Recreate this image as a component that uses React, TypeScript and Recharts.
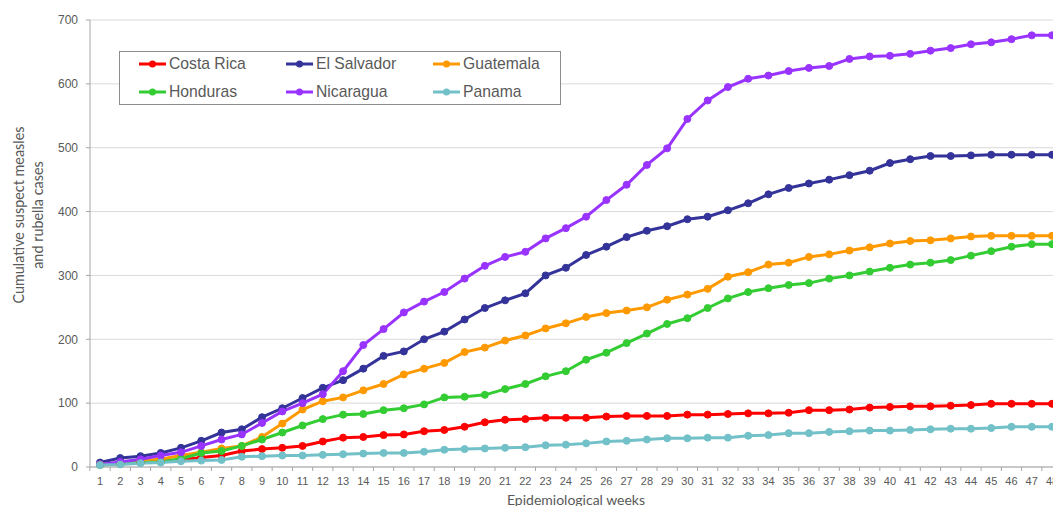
import { LineChart, Line, XAxis, YAxis, CartesianGrid, Legend } from 'recharts'

const weeks = [
  '1', '2', '3', '4', '5', '6', '7', '8', '9', '10', '11', '12',
  '13', '14', '15', '16', '17', '18', '19', '20', '21', '22', '23', '24',
  '25', '26', '27', '28', '29', '30', '31', '32', '33', '34', '35', '36',
  '37', '38', '39', '40', '41', '42', '43', '44', '45', '46', '47', '48',
]

const costaRica = [
  4, 5, 7, 9, 11, 15, 18, 25, 28, 30, 33, 40,
  46, 47, 50, 51, 56, 58, 63, 70, 74, 75, 77, 77,
  77, 79, 80, 80, 80, 82, 82, 83, 84, 84, 85, 89,
  89, 90, 93, 94, 95, 95, 96, 97, 99, 99, 99, 99,
]
const elSalvador = [
  7, 14, 17, 22, 30, 41, 54, 59, 78, 92, 108, 124,
  136, 154, 174, 181, 200, 212, 231, 249, 261, 272, 300, 312,
  332, 345, 360, 370, 377, 388, 392, 402, 413, 427, 437, 444,
  450, 457, 464, 476, 482, 487, 487, 488, 489, 489, 489, 489,
]
const guatemala = [
  4, 6, 10, 12, 18, 23, 29, 33, 47, 68, 90, 103,
  109, 120, 130, 145, 154, 163, 180, 187, 198, 206, 217, 225,
  235, 241, 245, 250, 262, 270, 279, 298, 305, 317, 320, 329,
  333, 339, 344, 350, 354, 355, 358, 361, 362, 362, 362, 362,
]
const honduras = [
  3, 5, 7, 8, 13, 22, 25, 33, 43, 54, 65, 75,
  82, 83, 89, 92, 98, 109, 110, 113, 122, 130, 142, 150,
  168, 179, 194, 209, 224, 233, 249, 264, 274, 280, 285, 288,
  295, 300, 306, 312, 317, 320, 324, 331, 338, 345, 349, 349,
]
const nicaragua = [
  4, 8, 12, 18, 23, 33, 43, 51, 69, 87, 100, 114,
  150, 191, 216, 242, 259, 274, 295, 315, 329, 337, 358, 374,
  392, 418, 442, 473, 499, 545, 574, 595, 608, 613, 620, 625,
  628, 639, 643, 644, 647, 652, 656, 662, 665, 670, 676, 676,
]
const panama = [
  3, 4, 6, 7, 9, 10, 11, 16, 17, 18, 18, 19,
  20, 21, 22, 22, 24, 27, 28, 29, 30, 31, 34, 35,
  37, 40, 41, 43, 45, 45, 46, 46, 49, 50, 53, 53,
  55, 56, 57, 57, 58, 59, 60, 60, 61, 63, 63, 63,
]

const yTicks = [0, 100, 200, 300, 400, 500, 600, 700]

const SERIES = [
  { key: 'costaRica', name: 'Costa Rica', color: '#ff0000', values: costaRica },
  { key: 'elSalvador', name: 'El Salvador', color: '#333399', values: elSalvador },
  { key: 'guatemala', name: 'Guatemala', color: '#ff9900', values: guatemala },
  { key: 'honduras', name: 'Honduras', color: '#33cc33', values: honduras },
  { key: 'nicaragua', name: 'Nicaragua', color: '#9933ff', values: nicaragua },
  { key: 'panama', name: 'Panama', color: '#72c1c8', values: panama },
]

const data = weeks.map((week, i) => {
  const row: Record<string, string | number> = { week }
  SERIES.forEach((s) => {
    row[s.key] = s.values[i]
  })
  return row
})

const AXIS = '#a6a6a6'
const TEXT = '#595959'
const TITLE_FONT = 'Lato, "Open Sans", sans-serif'

// Excel puts the category ticks between the labels, not under them
function WeekTick(props: any) {
  const { x, y, payload, index, visibleTicksCount } = props
  const half = 10.13
  const last = index === visibleTicksCount - 1
  return (
    <g>
      <line x1={x - half} x2={x - half} y1={y - 6} y2={y - 2} stroke={AXIS} />
      {last && <line x1={x + half} x2={x + half} y1={y - 6} y2={y - 2} stroke={AXIS} />}
      <text x={x} y={y + 12} textAnchor="middle" fontSize={11} fill={TEXT}>
        {payload.value}
      </text>
    </g>
  )
}

function XTitle(props: any) {
  const { viewBox } = props
  return (
    <text
      x={viewBox.x + viewBox.width / 2}
      y={viewBox.y + 38}
      textAnchor="middle"
      fontSize={14}
      fontFamily={TITLE_FONT}
      fill={TEXT}
    >
      Epidemiological weeks
    </text>
  )
}

function YTitle() {
  return (
    <g fontSize={14.4} fontFamily={TITLE_FONT} fill={TEXT} textAnchor="middle">
      <text transform="translate(18,215) rotate(-90)" dominantBaseline="central">
        Cumulative suspect measles
      </text>
      <text transform="translate(37.5,215) rotate(-90)" dominantBaseline="central">
        and rubella cases
      </text>
    </g>
  )
}

function LegendBox(props: any) {
  const items = props.payload && props.payload.length
    ? props.payload.map((p: any) => ({ name: p.value, color: p.color }))
    : SERIES
  return (
    <div
      style={{
        width: 442,
        height: 54,
        border: '1px solid #8c8c8c',
        boxSizing: 'border-box',
        background: '#fff',
        position: 'relative',
      }}
    >
      {items.map((s: any, i: number) => {
        const col = i % 3
        const row = Math.floor(i / 3)
        return (
          <div
            key={s.name}
            style={{
              position: 'absolute',
              left: 19 + col * 147,
              top: 3.3 + row * 27.4,
              height: 18,
              display: 'flex',
              alignItems: 'center',
              whiteSpace: 'nowrap',
            }}
          >
            <svg width={27} height={10}>
              <line x1={0} x2={27} y1={5} y2={5} stroke={s.color} strokeWidth={3} />
              <circle cx={13.5} cy={5} r={3.5} fill={s.color} />
            </svg>
            <span style={{ marginLeft: 3, fontSize: 15.7, lineHeight: '18px', color: TEXT }}>
              {s.name}
            </span>
          </div>
        )
      })}
    </div>
  )
}

export default function App() {
  return (
    <div
      style={{
        position: 'absolute',
        left: 0,
        top: 0,
        width: 1053,
        height: 506,
        overflow: 'hidden',
        background: '#fff',
        fontFamily: '"Liberation Sans", Arial, sans-serif',
      }}
    >
      <LineChart width={1073} height={506} data={data} margin={{ top: 20, right: 11, left: 0, bottom: 0 }}>
        <CartesianGrid vertical={false} stroke="#d9d9d9" />
        <XAxis
          dataKey="week"
          height={39}
          padding={{ left: 10, right: 10 }}
          interval={0}
          stroke={AXIS}
          tickLine={false}
          tickSize={4}
          tickMargin={2}
          tick={<WeekTick />}
          label={{ content: XTitle }}
        />
        <YAxis
          width={90}
          domain={[0, 700]}
          ticks={yTicks}
          interval={0}
          stroke={AXIS}
          tickSize={4}
          tickMargin={8}
          tick={{ fontSize: 12, fill: TEXT }}
          label={{ content: YTitle }}
        />
        <Legend
          layout="vertical"
          align="center"
          verticalAlign="middle"
          content={<LegendBox />}
          wrapperStyle={{ position: 'absolute', left: 119, top: 51, width: 442, height: 54 }}
        />
        {SERIES.map((s) => (
          <Line
            key={s.key}
            type="linear"
            dataKey={s.key}
            name={s.name}
            stroke={s.color}
            strokeWidth={3}
            dot={{ r: 3.5, fill: s.color, stroke: s.color, strokeWidth: 1 }}
            activeDot={false}
            isAnimationActive={false}
          />
        ))}
      </LineChart>
    </div>
  )
}
